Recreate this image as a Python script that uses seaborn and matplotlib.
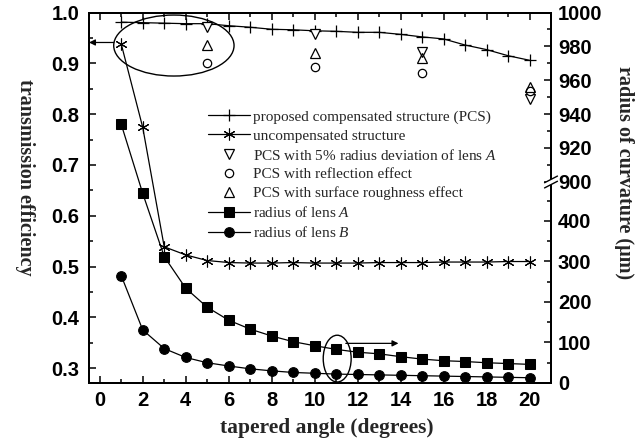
import numpy as np
import matplotlib
matplotlib.use("Agg")
import matplotlib.pyplot as plt
import seaborn as sns
from matplotlib.patches import Ellipse, Polygon
from matplotlib.ticker import FixedLocator, FixedFormatter, MultipleLocator

# ---------------- data ----------------
angles = list(range(1, 21))
pcs = [0.981, 0.980, 0.979, 0.978, 0.978, 0.974, 0.971, 0.967, 0.966, 0.964,
       0.963, 0.961, 0.961, 0.957, 0.952, 0.948, 0.936, 0.927, 0.915, 0.906]
uncompensated = [0.938, 0.774, 0.539, 0.523, 0.512, 0.508, 0.507, 0.507, 0.508, 0.507,
                 0.507, 0.507, 0.508, 0.508, 0.508, 0.509, 0.509, 0.509, 0.510, 0.510]
dev_angles = [5, 10, 15, 20]
radius_dev = [0.971, 0.958, 0.923, 0.830]
reflection = [0.900, 0.893, 0.881, 0.846]
roughness = [0.936, 0.920, 0.911, 0.854]
radius_A = [934, 468, 312, 234, 187, 155, 133, 116, 102, 92,
            83, 76, 72, 65, 59, 55, 53, 50, 48, 46]
radius_B = [265, 131, 85, 63, 50, 42, 35, 30, 26, 24,
            22, 21, 20, 19, 18, 17, 16, 15, 14, 13]

x_ticks = list(range(0, 21, 2))
left_ticks = [0.3, 0.4, 0.5, 0.6, 0.7, 0.8, 0.9, 1.0]
right_ticks = [0, 100, 200, 300, 400, 900, 920, 940, 960, 980, 1000]
right_minor = [50, 150, 250, 350, 450, 910, 930, 950, 970, 990]

# broken right axis: lower segment 0..BRK_LO, upper segment BRK_HI..1000
BRK_LO, BRK_HI, GAP, UP = 496.0, 900.0, 0.4, 4.18


def fwd(r):
    r = np.asarray(r, dtype=float)
    return np.where(r <= BRK_LO, r,
                    np.where(r >= BRK_HI, BRK_LO + GAP + (r - BRK_HI) * UP,
                             BRK_LO + (r - BRK_LO) * GAP / (BRK_HI - BRK_LO)))


def inv(u):
    u = np.asarray(u, dtype=float)
    return np.where(u <= BRK_LO, u,
                    np.where(u >= BRK_LO + GAP, BRK_HI + (u - BRK_LO - GAP) / UP,
                             BRK_LO + (u - BRK_LO) * (BRK_HI - BRK_LO) / GAP))


# ---------------- style ----------------
sns.set_theme(style="ticks")
plt.rcParams.update({
    "font.family": ["Liberation Sans", "DejaVu Sans"],
    "font.weight": "bold",
    "mathtext.fontset": "custom",
    "mathtext.rm": "Liberation Serif:weight=normal",
    "mathtext.it": "Liberation Serif:italic:weight=normal",
    "axes.linewidth": 1.4,
    "axes.edgecolor": "black",
})

fig = plt.figure(figsize=(6.44, 4.45), dpi=100)
ax = fig.add_axes([89 / 644, (445 - 383) / 445, 462 / 644, 370.5 / 445])
ax2 = ax.twinx()
ax2.set_yscale("function", functions=(fwd, inv))

k = "black"
sns.lineplot(x=angles, y=pcs, ax=ax, color=k, lw=0.9, marker="+", markersize=8,
             mew=0.9, mec=k, label="proposed compensated structure (PCS)")
sns.lineplot(x=angles, y=uncompensated, ax=ax, color=k, lw=0.9, marker=(6, 2, 0),
             markersize=8.5, mew=0.8, mec=k, label="uncompensated structure")
sns.lineplot(x=dev_angles, y=radius_dev, ax=ax, color=k, ls="none", marker="v",
             markersize=7, mfc="white", mec=k, mew=0.9,
             label="PCS with 5% radius deviation of lens $A$")
sns.lineplot(x=dev_angles, y=reflection, ax=ax, color=k, ls="none", marker="o",
             markersize=6, mfc="white", mec=k, mew=0.9,
             label="PCS with reflection effect")
sns.lineplot(x=dev_angles, y=roughness, ax=ax, color=k, ls="none", marker="^",
             markersize=7, mfc="none", mec=k, mew=0.9,
             label="PCS with surface roughness effect")
sns.lineplot(x=angles, y=radius_A, ax=ax2, color=k, lw=0.9, marker="s",
             markersize=6.5, mec=k, label="radius of lens $A$")
sns.lineplot(x=angles, y=radius_B, ax=ax2, color=k, lw=0.9, marker="o",
             markersize=7, mec=k, label="radius of lens $B$")

# ---------------- axes ----------------
ax.set_xlim(-0.5, 21)
ax.set_ylim(0.271, 1.0)
ax2.set_ylim(0, 1000)

ax.xaxis.set_major_locator(FixedLocator(x_ticks))
ax.xaxis.set_minor_locator(MultipleLocator(1))
ax.yaxis.set_major_locator(FixedLocator(left_ticks))
ax.yaxis.set_major_formatter(FixedFormatter([f"{v:.1f}" for v in left_ticks]))
ax.yaxis.set_minor_locator(MultipleLocator(0.05))
ax2.yaxis.set_major_locator(FixedLocator(right_ticks))
ax2.yaxis.set_major_formatter(FixedFormatter([str(v) for v in right_ticks]))
ax2.yaxis.set_minor_locator(FixedLocator(right_minor))

for a in (ax, ax2):
    a.tick_params(which="both", direction="in", width=1.1, labelsize=14.5,
                  colors="black")
    a.tick_params(which="major", length=5)
    a.tick_params(which="minor", length=2.8)
ax.tick_params(which="both", top=True, right=False, left=True, bottom=True)
ax.tick_params(axis="y", pad=7)
ax.tick_params(axis="x", pad=6)
ax2.tick_params(which="both", right=True, left=False, top=False, bottom=False)
ax2.tick_params(axis="y", pad=5)

xlab = dict(fontfamily="Liberation Serif", fontweight="bold", fontsize=15.5)
ylab = dict(fontfamily="Liberation Serif", fontweight="bold", fontsize=14.5)
ax.set_xlabel("tapered angle (degrees)", va="center", **xlab)
ax.xaxis.set_label_coords(0.515, -0.121)
ax.set_ylabel("transmission efficiency", rotation=270, va="center", ha="center", **ylab)
ax.yaxis.set_label_coords(-0.1385, 0.554)
ax2.set_ylabel("radius of curvature (μm)", rotation=270, va="center", ha="center", **ylab)
ax2.yaxis.set_label_coords(1.158, 0.567)

# ---------------- annotations ----------------
ax.add_patch(Ellipse((3.45, 0.935), 5.6, 0.12, fill=False, ec=k, lw=1.0))
ax.add_patch(Ellipse((11.05, 0.319), 1.3, 0.092, fill=False, ec=k, lw=1.0))
arrow = dict(arrowstyle="-|>", color=k, lw=0.9, mutation_scale=9, shrinkA=0, shrinkB=0)
ax.annotate("", xy=(-0.5, 0.941), xytext=(0.65, 0.941), arrowprops=arrow)
ax.annotate("", xy=(13.9, 0.349), xytext=(11.45, 0.349), arrowprops=arrow)

# break marks on right spine
yb = (383 - 182) / 370.5
dx, dy, sep = 0.014, 0.009, 0.007
ax2.add_patch(Polygon([(1 - dx, yb - dy - sep), (1 + dx, yb + dy - sep),
                       (1 + dx, yb + dy + sep), (1 - dx, yb - dy + sep)],
                      closed=True, transform=ax2.transAxes, fc="white", ec="none",
                      clip_on=False, zorder=5))
for s in (-sep, sep):
    ax2.plot([1 - dx, 1 + dx], [yb - dy + s, yb + dy + s], color=k, lw=1.0,
             transform=ax2.transAxes, clip_on=False, zorder=6)

# ---------------- legend ----------------
h1, l1 = ax.get_legend_handles_labels()
h2, l2 = ax2.get_legend_handles_labels()
if ax.get_legend():
    ax.get_legend().remove()
if ax2.get_legend():
    ax2.get_legend().remove()
leg = ax2.legend(h1 + h2, l1 + l2, loc="upper left", bbox_to_anchor=(0.258, 0.737),
                 frameon=False, borderpad=0, borderaxespad=0, handlelength=2.75,
                 handletextpad=0.2, labelspacing=0.33, numpoints=1,
                 prop={"family": "Liberation Serif", "weight": "normal", "size": 11})

fig.savefig("out.png", dpi=100)
